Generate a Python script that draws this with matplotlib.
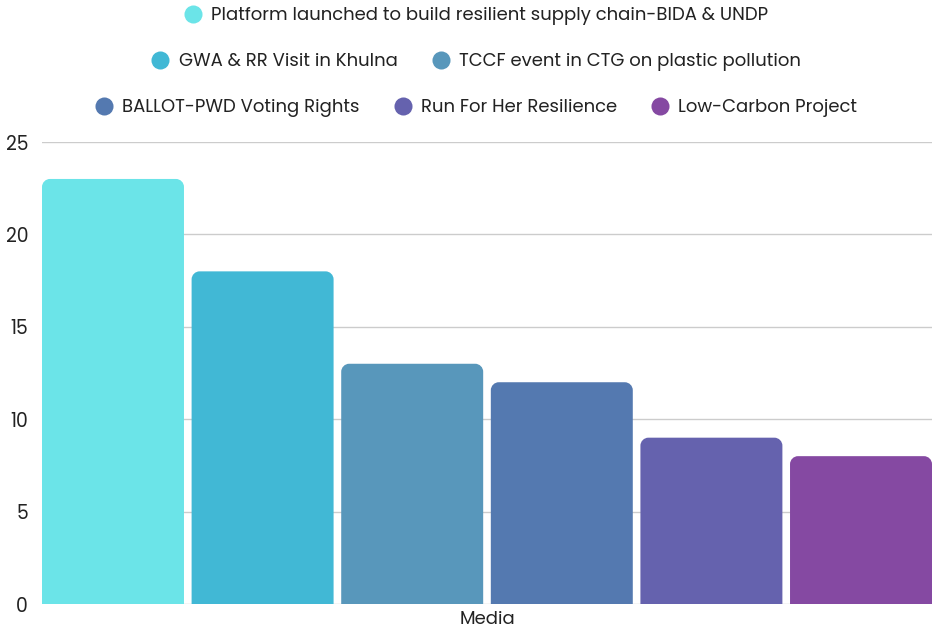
import numpy as np
import matplotlib
matplotlib.use("Agg")
import matplotlib.pyplot as plt
from matplotlib.path import Path
from matplotlib.patches import PathPatch
from matplotlib.lines import Line2D

# data
labels = ["Platform launched to build resilient supply chain-BIDA & UNDP",
          "GWA & RR Visit in Khulna",
          "TCCF event in CTG on plastic pollution",
          "BALLOT-PWD Voting Rights",
          "Run For Her Resilience",
          "Low-Carbon Project"]
values = [23, 18, 13, 12, 9, 8]
colors = ["#6BE4E8", "#41B8D5", "#5897BB", "#5479B0", "#6562AE", "#8549A2"]
yticks = [0, 5, 10, 15, 20, 25]
category = "Media"

plt.rcParams['font.family'] = ['Poppins', 'Inter', 'DejaVu Sans']

W, H = 938, 631
fig = plt.figure(figsize=(W / 100, H / 100), dpi=100)
ax_l, ax_r, ax_t, ax_b = 42, 932, 142, 604
ax = fig.add_axes([ax_l / W, (H - ax_b) / H, (ax_r - ax_l) / W, (ax_b - ax_t) / H])

bw = 0.949
xlim = (-bw / 2, len(values) - 1 + bw / 2)
ylim = (0, 25)
ax.set_xlim(*xlim)
ax.set_ylim(*ylim)

# corner radius of ~8 px expressed in data units
rad_px = 8
rx = rad_px * (xlim[1] - xlim[0]) / (ax_r - ax_l)
ry = rad_px * (ylim[1] - ylim[0]) / (ax_b - ax_t)
k = 0.5523

def top_rounded_bar(xc, h, w, color):
    x0, x1 = xc - w / 2, xc + w / 2
    verts = [(x0, 0), (x0, h - ry),
             (x0, h - ry + k * ry), (x0 + rx - k * rx, h), (x0 + rx, h),
             (x1 - rx, h),
             (x1 - rx + k * rx, h), (x1, h - ry + k * ry), (x1, h - ry),
             (x1, 0), (x0, 0)]
    codes = [Path.MOVETO, Path.LINETO,
             Path.CURVE4, Path.CURVE4, Path.CURVE4,
             Path.LINETO,
             Path.CURVE4, Path.CURVE4, Path.CURVE4,
             Path.LINETO, Path.CLOSEPOLY]
    ax.add_patch(PathPatch(Path(verts, codes), facecolor=color,
                           edgecolor="none", zorder=3))

for i, (v, c) in enumerate(zip(values, colors)):
    top_rounded_bar(i, v, bw, c)

ax.set_yticks(yticks)
ax.set_yticklabels([str(t) for t in yticks])
ax.grid(axis="y", color="#CCCCCC", linewidth=1, zorder=0)
ax.set_axisbelow(True)
for s in ax.spines.values():
    s.set_visible(False)
ax.tick_params(axis="y", length=0, pad=10, labelsize=13.5, labelcolor="#222222")
ax.tick_params(axis="x", length=0)
ax.set_xticks([])
ax.set_xlabel(category, fontsize=13, color="#222222", labelpad=5)

# legend in three centred rows
rows = [[0], [1, 2], [3, 4, 5]]
row_y = [16, 62, 108]
for idx, yy in zip(rows, row_y):
    handles = [Line2D([], [], linestyle="none", marker="o", markersize=13,
                      markerfacecolor=colors[i], markeredgecolor="none")
               for i in idx]
    fig.legend(handles, [labels[i] for i in idx], loc="center",
               bbox_to_anchor=(0.5075, 1 - yy / H), ncol=len(idx), frameon=False,
               fontsize=13.0, handlelength=1.0, handletextpad=0.5,
               columnspacing=1.9, borderpad=0, labelcolor="#222222")

fig.savefig("out.png", dpi=100)
